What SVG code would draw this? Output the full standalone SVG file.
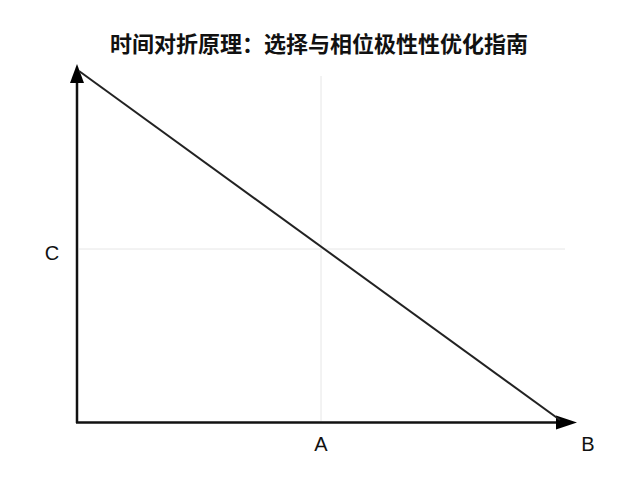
<svg xmlns="http://www.w3.org/2000/svg" width="640" height="480" viewBox="0 0 640 480">
<style>
.title{font-family:"Noto Sans CJK SC","Noto Sans",sans-serif;font-size:22px;font-weight:bold;fill:#111}
.lbl{font-family:"Liberation Sans",Arial,sans-serif;font-size:20px;fill:#111}
.grid{stroke:#e6e6e6;stroke-width:1;fill:none}
.axis{stroke:#111;stroke-width:2.5;fill:none}
.diag{stroke:#222;stroke-width:2;fill:none}
</style>
<rect width="640" height="480" fill="#fff"/>
<text class="title" x="319" y="52" text-anchor="middle">时间对折原理：选择与相位极性性优化指南</text>
<g id="grid">
<line class="grid" x1="321" y1="76" x2="321" y2="421"/>
<line class="grid" x1="79" y1="249" x2="565" y2="249"/>
</g>
<g id="connectors">
<path class="axis" d="M77,423 L77,82"/>
<path d="M77,64 L84,83 L70,83 Z" fill="#000"/>
<path class="axis" d="M76,422.5 L557,422.5"/>
<path d="M577,422.5 L556,415.5 L556,429.5 Z" fill="#000"/>
<line class="diag" x1="79" y1="71" x2="560" y2="420"/>
</g>
<g id="labels">
<text class="lbl" x="52" y="260" text-anchor="middle">C</text>
<text class="lbl" x="321" y="451" text-anchor="middle">A</text>
<text class="lbl" x="588" y="451" text-anchor="middle">B</text>
</g>
</svg>
